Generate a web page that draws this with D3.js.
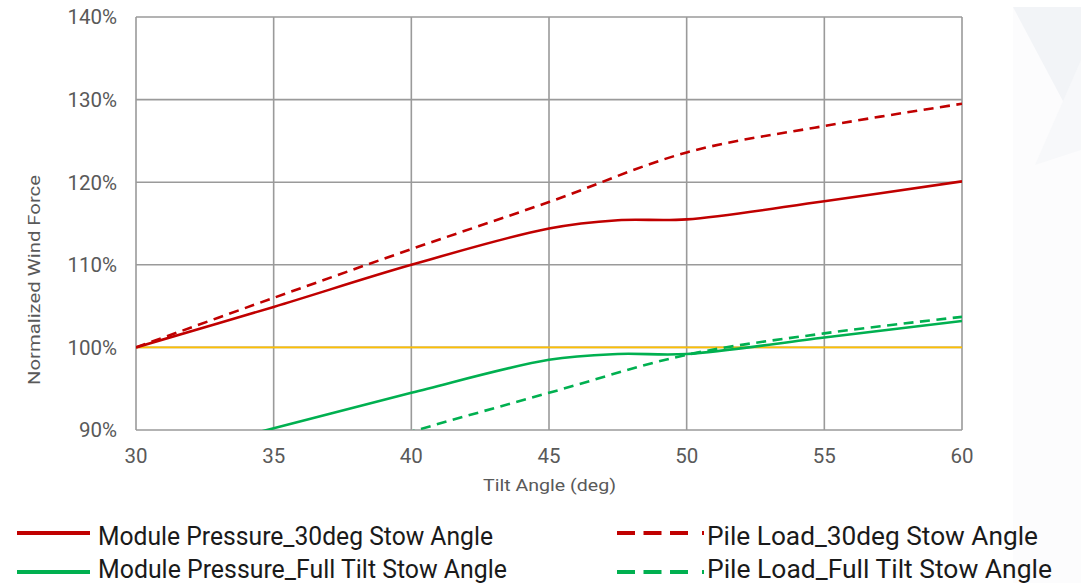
<!DOCTYPE html>
<html>
<head>
<meta charset="utf-8">
<script src="https://cdn.jsdelivr.net/npm/d3@7/dist/d3.min.js"></script>
<style>
  html, body { margin: 0; padding: 0; background: #fff; }
  svg { display: block; font-family: Roboto, "Noto Sans", sans-serif; }
</style>
</head>
<body>
<svg id="chart" width="1081" height="583"></svg>
<script>
// ---- data ----
const tiltAngles = [30, 35, 40, 45, 47.5, 50, 55, 60];
const modulePressure30 = [100, 104.9, 110.0, 114.4, 115.4, 115.5, 117.7, 120.1];
const modulePressureFull = [86.0, 90.2, 94.5, 98.5, 99.2, 99.2, 101.2, 103.2];
const pileAngles = [30, 35, 40, 45, 50, 55, 60];
const pileLoad30 = [100, 106.0, 111.9, 117.6, 123.6, 126.8, 129.5];
const pileLoadFull = [80.0, 84.9, 89.8, 94.5, 99.1, 101.7, 103.7];
const referenceLevel = 100;
const xTicks = [30, 35, 40, 45, 50, 55, 60];
const yTicks = [90, 100, 110, 120, 130, 140];
const seriesNames = [
  "Module Pressure_30deg Stow Angle",
  "Module Pressure_Full Tilt Stow Angle",
  "Pile Load_30deg Stow Angle",
  "Pile Load_Full Tilt Stow Angle"
];
const xTitle = "Tilt Angle (deg)";
const yTitle = "Normalized Wind Force";

// ---- layout ----
const svg = d3.select("#chart");
const plot = { left: 136, right: 962, top: 17, bottom: 430 };
const RED = "#C00000", GREEN = "#00B050", GOLD = "#FFC000", GRID = "#9a9a9a", TXT = "#595959";

// faint decorative background panel on the right
svg.append("rect").attr("x", 1013).attr("y", 7).attr("width", 68).attr("height", 576).attr("fill", "#fcfcfd");
svg.append("polygon").attr("points", "1013,7 1081,7 1081,135").attr("fill", "#f2f4f7");
svg.append("polygon").attr("points", "1081,60 1081,150 1035,165").attr("fill", "#f7f8fa");

const x = d3.scaleLinear().domain([30, 60]).range([plot.left, plot.right]);
const y = d3.scaleLinear().domain([90, 140]).range([plot.bottom, plot.top]);

// gridlines
const g = svg.append("g");
g.selectAll("line.v").data(xTicks).join("line")
  .attr("x1", d => x(d)).attr("x2", d => x(d))
  .attr("y1", plot.top).attr("y2", plot.bottom)
  .attr("stroke", GRID).attr("stroke-width", 1.6);
g.selectAll("line.h").data(yTicks).join("line")
  .attr("x1", plot.left).attr("x2", plot.right)
  .attr("y1", d => y(d)).attr("y2", d => y(d))
  .attr("stroke", GRID).attr("stroke-width", 1.6);

// tick labels
svg.append("g").selectAll("text").data(yTicks).join("text")
  .attr("x", 117).attr("y", d => y(d)).attr("dy", "0.36em")
  .attr("text-anchor", "end").attr("font-size", 20.5).attr("fill", TXT)
  .text(d => d + "%");
svg.append("g").selectAll("text").data(xTicks).join("text")
  .attr("x", d => x(d)).attr("y", 462.5)
  .attr("text-anchor", "middle").attr("font-size", 20.5).attr("fill", TXT)
  .text(d => d);

// axis titles
svg.append("text").attr("x", 549.5).attr("y", 491).attr("text-anchor", "middle")
  .attr("font-size", 16.5).attr("fill", TXT)
  .attr("textLength", 133).attr("lengthAdjust", "spacingAndGlyphs").text(xTitle);
svg.append("text").attr("transform", "translate(40,280) rotate(-90)").attr("text-anchor", "middle")
  .attr("font-size", 16.5).attr("fill", TXT)
  .attr("textLength", 210).attr("lengthAdjust", "spacingAndGlyphs").text(yTitle);

// clip
svg.append("clipPath").attr("id", "plotclip").append("rect")
  .attr("x", plot.left).attr("y", plot.top)
  .attr("width", plot.right - plot.left).attr("height", plot.bottom - plot.top);

// reference line
svg.append("line").attr("x1", x(30)).attr("x2", x(60))
  .attr("y1", y(referenceLevel)).attr("y2", y(referenceLevel))
  .attr("stroke", GOLD).attr("stroke-width", 1.8);

const line = d3.line().x(d => x(d[0])).y(d => y(d[1])).curve(d3.curveCatmullRom.alpha(0.5));
const lines = svg.append("g").attr("clip-path", "url(#plotclip)");
const series = [
  { xs: tiltAngles, ys: modulePressureFull, color: GREEN, dash: null },
  { xs: pileAngles, ys: pileLoadFull, color: GREEN, dash: "10,6.5" },
  { xs: tiltAngles, ys: modulePressure30, color: RED, dash: null },
  { xs: pileAngles, ys: pileLoad30, color: RED, dash: "10,6.5" }
];
series.forEach(s => {
  lines.append("path")
    .datum(s.xs.map((v, i) => [v, s.ys[i]]))
    .attr("d", line).attr("fill", "none")
    .attr("stroke", s.color).attr("stroke-width", 2.6)
    .attr("stroke-dasharray", s.dash);
});

// legend
const legend = [
  { name: seriesNames[0], color: RED, dash: null, lx: 17, ly: 533, tx: 98, ty: 545, tl: 395 },
  { name: seriesNames[1], color: GREEN, dash: null, lx: 17, ly: 572, tx: 98, ty: 578, tl: 409 },
  { name: seriesNames[2], color: RED, dash: "18,8.5,18,8.5,18,14,2", lx: 617, ly: 533, tx: 707, ty: 545, tl: 331 },
  { name: seriesNames[3], color: GREEN, dash: "18,8.5,18,8.5,18,14,2", lx: 617, ly: 572, tx: 707, ty: 578, tl: 345 }
];
const lg = svg.append("g");
legend.forEach(d => {
  lg.append("line").attr("x1", d.lx).attr("x2", d.lx + (d.dash ? 87 : 73))
    .attr("y1", d.ly).attr("y2", d.ly)
    .attr("stroke", d.color).attr("stroke-width", 3.8).attr("stroke-dasharray", d.dash);
  lg.append("text").attr("x", d.tx).attr("y", d.ty)
    .attr("font-size", 25).attr("fill", "#1a1a1a")
    .attr("textLength", d.tl).attr("lengthAdjust", "spacingAndGlyphs").text(d.name);
});
</script>
</body>
</html>
